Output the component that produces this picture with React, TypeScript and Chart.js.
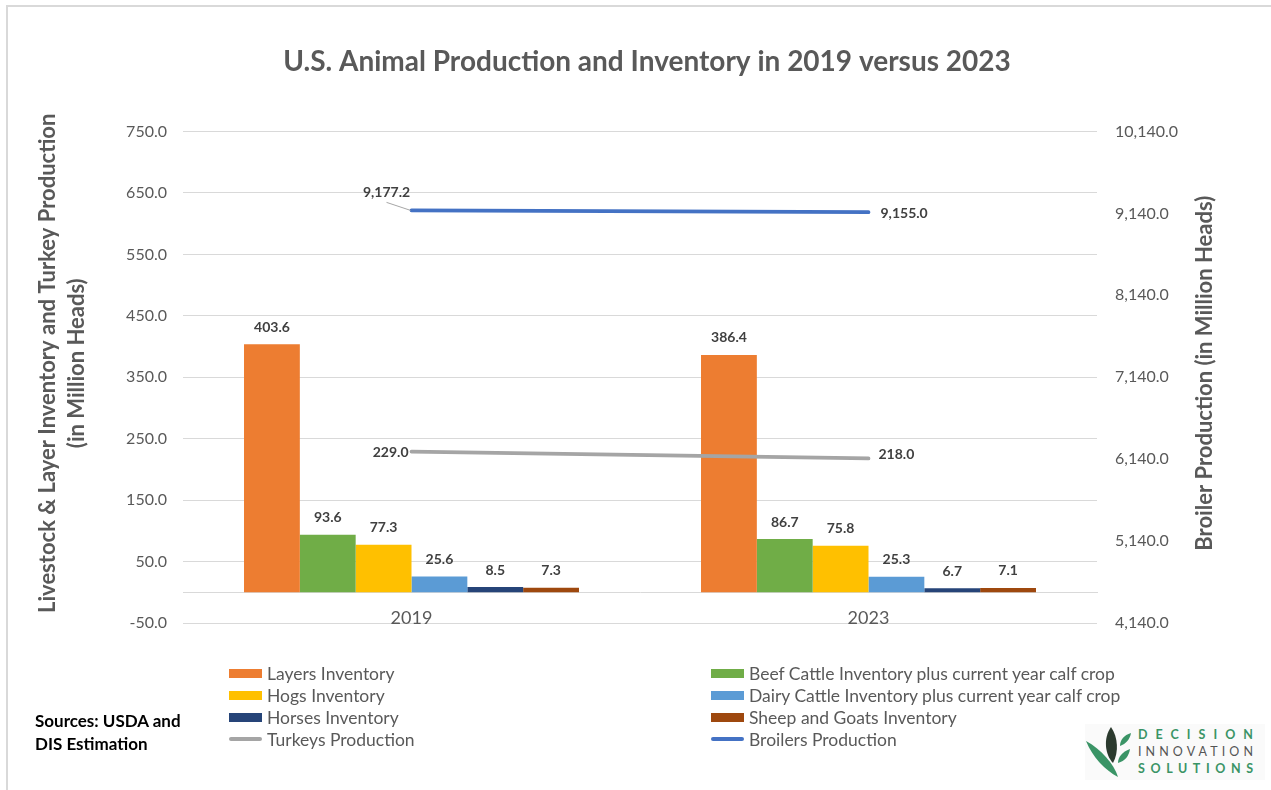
import React, { useEffect, useRef } from 'react';
import { Chart, registerables } from 'chart.js';

Chart.register(...registerables);

// ---------- data ----------
const categories = ['2019', '2023'];
const layersInventory = [403.6, 386.4];
const beefCattleInventory = [93.6, 86.7];
const hogsInventory = [77.3, 75.8];
const dairyCattleInventory = [25.6, 25.3];
const horsesInventory = [8.5, 6.7];
const sheepGoatsInventory = [7.3, 7.1];
const turkeysProduction = [229.0, 218.0];
const broilersProduction = [9177.2, 9155.0];

const leftAxisMin = -50;
const leftAxisMax = 750;
const leftAxisStep = 100;
const rightAxisMin = 4140;
const rightAxisMax = 10140;
const rightAxisStep = 1000;

const chartTitle = 'U.S. Animal Production and Inventory in 2019 versus 2023';
const leftAxisTitle = ['Livestock & Layer Inventory and Turkey Production', '(in Million Heads)'];
const rightAxisTitle = 'Broiler Production (in Million Heads)';
const sourcesText = ['Sources: USDA and', 'DIS Estimation'];

const barSeries = [
  { label: 'Layers Inventory', data: layersInventory, color: '#ED7D31' },
  { label: 'Beef Cattle Inventory plus current year calf crop', data: beefCattleInventory, color: '#70AD47' },
  { label: 'Hogs Inventory', data: hogsInventory, color: '#FFC000' },
  { label: 'Dairy Cattle Inventory plus current year calf crop', data: dairyCattleInventory, color: '#5B9BD5' },
  { label: 'Horses Inventory', data: horsesInventory, color: '#264478' },
  { label: 'Sheep and Goats Inventory', data: sheepGoatsInventory, color: '#9E480E' },
];
const lineSeries = [
  { id: 'turkeys', label: 'Turkeys Production', data: turkeysProduction, color: '#A5A5A5', axis: 'y' },
  { id: 'broilers', label: 'Broilers Production', data: broilersProduction, color: '#4472C4', axis: 'y1' },
];

const FONT = 'Lato, "Open Sans", sans-serif';
const TEXT_GREY = '#595959';

const fmt1 = (v: number) =>
  Number(v).toLocaleString('en-US', { minimumFractionDigits: 1, maximumFractionDigits: 1 });

// ---------- plugins ----------
const valueLabelsPlugin = {
  id: 'valueLabels',
  afterDatasetsDraw(chart: any) {
    const ctx = chart.ctx;
    ctx.save();
    ctx.font = `bold 14px ${FONT}`;
    ctx.fillStyle = '#404040';
    ctx.textBaseline = 'middle';
    chart.data.datasets.forEach((ds: any, di: number) => {
      const meta = chart.getDatasetMeta(di);
      meta.data.forEach((el: any, i: number) => {
        const txt = fmt1(ds.data[i]);
        if (ds.type === 'bar') {
          ctx.textAlign = 'center';
          ctx.fillText(txt, el.x, el.y - 17);
        } else if (ds.seriesId === 'turkeys') {
          if (i === 0) {
            ctx.textAlign = 'right';
            ctx.fillText(txt, el.x - 3, el.y + 1);
          } else {
            ctx.textAlign = 'left';
            ctx.fillText(txt, el.x + 10, el.y - 4);
          }
        } else if (ds.seriesId === 'broilers') {
          if (i === 0) {
            ctx.textAlign = 'center';
            const lx = el.x - 25;
            const ly = el.y - 18;
            ctx.fillText(txt, lx, ly);
            ctx.strokeStyle = '#A6A6A6';
            ctx.lineWidth = 1;
            ctx.beginPath();
            ctx.moveTo(lx, ly + 10);
            ctx.lineTo(el.x - 1, el.y);
            ctx.stroke();
          } else {
            ctx.textAlign = 'left';
            ctx.fillText(txt, el.x + 12, el.y + 1);
          }
        }
      });
    });
    ctx.restore();
  },
};

const axisTitlesPlugin = {
  id: 'axisTitles',
  afterDraw(chart: any) {
    const ctx = chart.ctx;
    const { top, bottom } = chart.chartArea;
    const mid = (top + bottom) / 2;
    ctx.save();
    ctx.font = `bold 22px ${FONT}`;
    ctx.fillStyle = TEXT_GREY;
    ctx.textAlign = 'center';
    ctx.textBaseline = 'middle';
    const leftXs = [48, 77];
    leftAxisTitle.forEach((t, i) => {
      ctx.save();
      ctx.translate(leftXs[i], mid - 14);
      ctx.rotate(-Math.PI / 2);
      ctx.fillText(t, 0, 0);
      ctx.restore();
    });
    ctx.save();
    ctx.translate(chart.scales.y1.right - 66, mid - 4);
    ctx.rotate(-Math.PI / 2);
    ctx.fillText(rightAxisTitle, 0, 0);
    ctx.restore();
    ctx.restore();
  },
};

// ---------- legend ----------
const legendOrder = [
  { kind: 'bar', idx: 0, col: 0, row: 0 },
  { kind: 'bar', idx: 1, col: 1, row: 0 },
  { kind: 'bar', idx: 2, col: 0, row: 1 },
  { kind: 'bar', idx: 3, col: 1, row: 1 },
  { kind: 'bar', idx: 4, col: 0, row: 2 },
  { kind: 'bar', idx: 5, col: 1, row: 2 },
  { kind: 'line', idx: 0, col: 0, row: 3 },
  { kind: 'line', idx: 1, col: 1, row: 3 },
];

function Legend() {
  const colX = [229, 711];
  const rowY = [673, 695, 717, 739];
  return (
    <>
      {legendOrder.map((it, k) => {
        const s = it.kind === 'bar' ? barSeries[it.idx] : lineSeries[it.idx];
        const x = colX[it.col];
        const y = rowY[it.row];
        return (
          <div
            key={k}
            style={{
              position: 'absolute',
              left: x,
              top: y - 11,
              height: 22,
              display: 'flex',
              alignItems: 'center',
              whiteSpace: 'nowrap',
              font: `17.5px ${FONT}`,
              color: TEXT_GREY,
            }}
          >
            {it.kind === 'bar' ? (
              <span style={{ display: 'inline-block', width: 33, height: 9, background: s.color, marginRight: 5 }} />
            ) : (
              <span
                style={{
                  display: 'inline-block',
                  width: 33,
                  height: 4,
                  borderRadius: 2,
                  background: s.color,
                  marginRight: 5,
                }}
              />
            )}
            <span>{s.label}</span>
          </div>
        );
      })}
    </>
  );
}

function Logo() {
  return (
    <svg
      width={185}
      height={60}
      style={{ position: 'absolute', left: 1080, top: 722 }}
      viewBox="0 0 185 60"
    >
      <rect x={5} y={2} width={180} height={56} fill="#FAFAFA" />
      <path d="M31,5 C23,16 25,33 33,41 C39,30 38,15 31,5 Z" fill="#2B3A2E" />
      <path d="M6,19 C13,36 25,48 38,55 C34,42 21,27 6,19 Z" fill="#3A9466" />
      <path d="M51,11 C44,13 40,18 40,24 C46,22 50,17 51,11 Z" fill="#3A9466" />
      <path d="M50,27 C42,30 38,35 38,41 C45,39 49,34 50,27 Z" fill="#3A9466" />
      <text x={58} y={17} fontFamily={FONT} fontWeight="bold" fontSize={12.5} fill="#3A9466" textLength={115} lengthAdjust="spacing">
        DECISION
      </text>
      <text x={58} y={34} fontFamily={FONT} fontSize={12.5} fill="#555555" textLength={115} lengthAdjust="spacing">
        INNOVATION
      </text>
      <text x={58} y={51} fontFamily={FONT} fontWeight="bold" fontSize={12.5} fill="#3A9466" textLength={115} lengthAdjust="spacing">
        SOLUTIONS
      </text>
    </svg>
  );
}

export default function App() {
  const canvasRef = useRef<HTMLCanvasElement | null>(null);

  useEffect(() => {
    document.body.style.margin = '0';
    const canvas = canvasRef.current;
    if (!canvas) return;
    Chart.defaults.font.family = FONT;

    const datasets: any[] = [
      ...lineSeries.map((s) => ({
        type: 'line',
        seriesId: s.id,
        label: s.label,
        data: s.data,
        yAxisID: s.axis,
        borderColor: s.color,
        backgroundColor: s.color,
        borderWidth: 3.75,
        borderCapStyle: 'round',
        pointRadius: 0,
        tension: 0,
        fill: false,
        order: 0,
      })),
      ...barSeries.map((s) => ({
        type: 'bar',
        label: s.label,
        data: s.data,
        yAxisID: 'y',
        backgroundColor: s.color,
        borderWidth: 0,
        barPercentage: 1,
        categoryPercentage: 0.733,
        order: 1,
      })),
    ];

    const chart = new Chart(canvas, {
      type: 'bar',
      data: { labels: categories, datasets },
      options: {
        animation: false,
        responsive: false,
        events: [],
        layout: { padding: { top: 0, bottom: 167, left: 23, right: 0 } },
        plugins: {
          legend: { display: false },
          tooltip: { enabled: false },
          title: {
            display: true,
            text: chartTitle,
            color: TEXT_GREY,
            font: { size: 28, weight: 'bold', family: FONT },
            padding: { top: 45, bottom: 52.9 },
          },
        },
        scales: {
          x: {
            type: 'category',
            position: { y: 0 } as any,
            offset: true,
            grid: { display: false, drawTicks: false },
            border: { display: true, color: '#D9D9D9', width: 1 },
            ticks: { color: TEXT_GREY, font: { size: 18 }, padding: 15 },
          },
          y: {
            type: 'linear',
            position: 'left',
            min: leftAxisMin,
            max: leftAxisMax,
            ticks: {
              stepSize: leftAxisStep,
              color: TEXT_GREY,
              font: { size: 16 },
              padding: 16,
              callback: (v: any) => fmt1(v),
            },
            grid: { color: '#D9D9D9', lineWidth: 1, drawTicks: false },
            border: { display: false },
            afterFit: (scale: any) => {
              scale.width = 160;
            },
          },
          y1: {
            type: 'linear',
            position: 'right',
            min: rightAxisMin,
            max: rightAxisMax,
            ticks: {
              stepSize: rightAxisStep,
              color: TEXT_GREY,
              font: { size: 16 },
              padding: 18,
              callback: (v: any) => fmt1(v),
            },
            grid: { display: false, drawTicks: false },
            border: { display: false },
            afterFit: (scale: any) => {
              scale.width = 174;
            },
          },
        },
      } as any,
      plugins: [valueLabelsPlugin, axisTitlesPlugin],
    });
    return () => chart.destroy();
  }, []);

  return (
    <div
      style={{
        position: 'relative',
        width: 1271,
        height: 790,
        background: '#FFFFFF',
        overflow: 'hidden',
        fontFamily: FONT,
      }}
    >
      <canvas
        ref={canvasRef}
        width={1271}
        height={790}
        style={{ position: 'absolute', left: 0, top: 0, width: 1271, height: 790 }}
      />
      <div
        style={{
          position: 'absolute',
          left: 6,
          top: 5,
          width: 1400,
          height: 900,
          borderLeft: '2px solid #D9D9D9',
          borderTop: '2px solid #D9D9D9',
          pointerEvents: 'none',
        }}
      />
      <Legend />
      <div
        style={{
          position: 'absolute',
          left: 35,
          top: 709,
          font: `bold 17px ${FONT}`,
          lineHeight: '23px',
          color: '#000000',
          whiteSpace: 'nowrap',
        }}
      >
        {sourcesText.map((t, i) => (
          <div key={i}>{t}</div>
        ))}
      </div>
      <Logo />
    </div>
  );
}
